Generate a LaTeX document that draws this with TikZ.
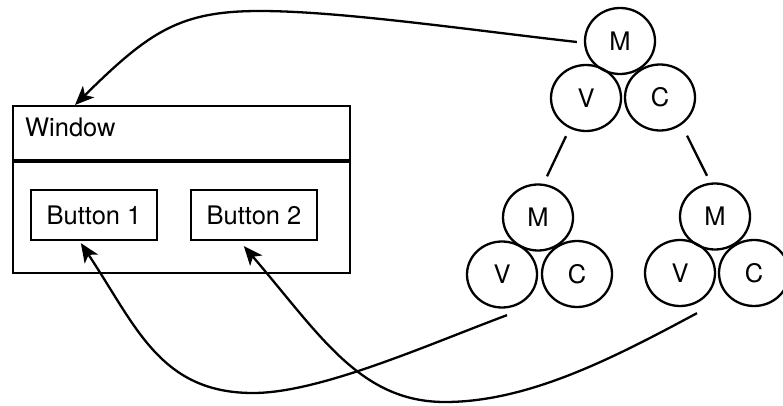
\documentclass[tikz,border=0pt]{standalone}
\usepackage{fontspec}
\setmainfont{TeX Gyre Heros}
\usetikzlibrary{shapes.geometric,arrows.meta,calc}
\begin{document}
\begin{tikzpicture}[x=1pt,y=-1pt,
  line width=2.3pt,
  every node/.style={font=\fontsize{25.5}{30}\selectfont},
  part/.style={draw,ellipse,minimum width=70pt,minimum height=66pt,inner sep=0pt},
  btn/.style={draw,rectangle,minimum width=126pt,minimum height=50pt,inner sep=0pt},
  link/.style={-{Stealth[length=19pt,width=16pt,inset=5pt]}},
]
\useasboundingbox (0,0) rectangle (783,406);

% window with its title bar and two buttons
\node[draw,rectangle,minimum width=337pt,minimum height=167pt,inner sep=0pt,anchor=north west] (win) at (12,105) {};
\draw[line width=3.8pt] ($(win.north west)+(0,56)$) -- ($(win.north east)+(0,56)$);
\node[anchor=base west,inner sep=0pt] (wlabel) at (24,137) {Window};
\node[btn] (b1) at (94,215) {Button 1};
\node[btn] (b2) at (254,215) {Button 2};

% top MVC triad
\node[part] (tM) at (620,41) {M};
\node[part] (tV) at (586,98) {V};
\node[part] (tC) at (660,97.5) {C};

% left MVC triad
\node[part] (lM) at (538,217.5) {M};
\node[part] (lV) at (502,274.5) {V};
\node[part] (lC) at (577,274) {C};

% right MVC triad
\node[part] (rM) at (715,216.5) {M};
\node[part] (rV) at (680,273) {V};
\node[part] (rC) at (754,273) {C};

% tree links between triads
\draw ($(tV.south)+(-20,4)$) -- ($(lM.north)+(9,-7)$);
\draw ($(tC.south)+(27,4)$) -- ($(rM.north)+(-8,-6.5)$);

% arrow end points on the window and buttons
\coordinate (wtop) at ($(win.north west)+(63,0)$);
\coordinate (b1tip) at ($(b1.south west)+(51,2)$);
\coordinate (b2tip) at ($(b2.south west)+(54,5)$);

% model -> window
\draw[link] ($(tM.west)+(-7,1)$) .. controls (470,30) and (340,11) .. (260,11)
  .. controls (180,11) and (150,31) .. (wtop);
% left view -> button 1
\draw[link] ($(lV.south)+(5,6.5)$) .. controls (427,345) and (320,393) .. (253,393)
  .. controls (160,393) and (136,326) .. (b1tip);
% right view -> button 2
\draw[link] ($(rV.south)+(17,6)$) .. controls (617,356) and (530,402) .. (445,402)
  .. controls (360,402) and (320,335) .. (b2tip);
\end{tikzpicture}
\end{document}
